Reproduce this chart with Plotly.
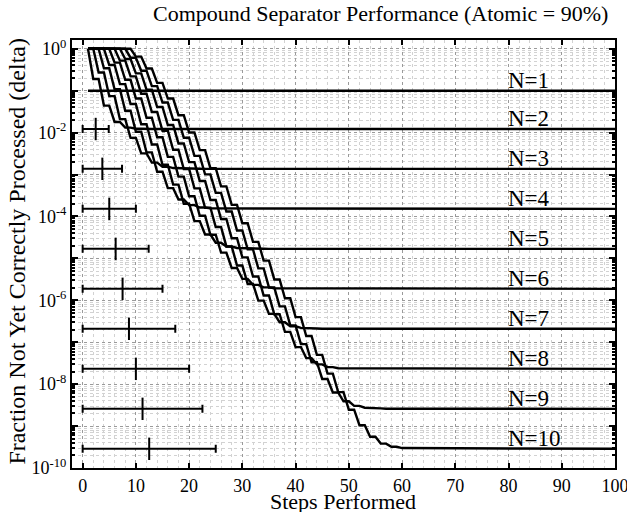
import math
import plotly.graph_objects as go

# ── Data ─────────────────────────────────────────────────────────────────────
# fraction not yet processed, one level per two steps, starting at step N
# (value holds for two consecutive steps; last entry is the floor)
n1 = [1.0e-1]
n2 = [1.90e-1, 4.42e-2, 1.80e-2, 1.32e-2, 1.24e-2, 1.22e-2]
n3 = [2.71e-1, 7.42e-2, 2.10e-2, 7.52e-3, 3.21e-3, 1.93e-3, 1.54e-3, 1.43e-3,
      1.39e-3, 1.38e-3, 1.37e-3]
n4 = [3.44e-1, 1.08e-1, 3.33e-2, 1.05e-2, 3.39e-3, 1.17e-3, 4.75e-4, 2.55e-4,
      1.87e-4, 1.64e-4, 1.56e-4, 1.54e-4, 1.52e-4]
n5 = [4.10e-1, 1.44e-1, 4.81e-2, 1.59e-2, 5.21e-3, 1.72e-3, 5.76e-4, 2.02e-4,
      7.77e-5, 3.71e-5, 2.37e-5, 1.92e-5, 1.77e-5, 1.72e-5, 1.70e-5, 1.69e-5]
n6 = [4.69e-1, 1.82e-1, 6.54e-2, 2.27e-2, 7.78e-3, 2.64e-3, 8.95e-4, 3.04e-4,
      1.04e-4, 3.66e-5, 1.37e-5, 5.88e-6, 3.24e-6, 2.34e-6, 2.04e-6, 1.94e-6,
      1.90e-6, 1.88e-6]
n7 = [5.22e-1, 2.20e-1, 8.48e-2, 3.11e-2, 1.11e-2, 3.90e-3, 1.36e-3, 4.69e-4,
      1.62e-4, 5.61e-5, 1.93e-5, 6.77e-6, 2.46e-6, 9.82e-7, 4.75e-7, 3.00e-7,
      2.40e-7, 2.20e-7, 2.13e-7, 2.09e-7]
n8 = [5.70e-1, 2.60e-1, 1.06e-1, 4.09e-2, 1.52e-2, 5.53e-3, 1.98e-3, 7.02e-4,
      2.47e-4, 8.69e-5, 3.02e-5, 1.06e-5, 3.69e-6, 1.30e-6, 4.66e-7, 1.77e-7,
      7.66e-8, 4.18e-8, 2.97e-8, 2.55e-8, 2.40e-8, 2.35e-8, 2.32e-8]
n9 = [6.13e-1, 2.99e-1, 1.29e-1, 5.22e-2, 2.02e-2, 7.58e-3, 2.79e-3, 1.01e-3,
      3.65e-4, 1.31e-4, 4.63e-5, 1.64e-5, 5.77e-6, 2.03e-6, 7.16e-7, 2.53e-7,
      9.03e-8, 3.33e-8, 1.33e-8, 6.35e-9, 3.90e-9, 3.04e-9, 2.74e-9, 2.64e-9,
      2.60e-9, 2.58e-9]
n10 = [6.51e-1, 3.38e-1, 1.54e-1, 6.50e-2, 2.61e-2, 1.01e-2, 3.83e-3, 1.42e-3,
       5.22e-4, 1.89e-4, 6.90e-5, 2.48e-5, 8.85e-6, 3.15e-6, 1.12e-6, 3.97e-7,
       1.41e-7, 4.99e-8, 1.78e-8, 6.46e-9, 2.46e-9, 1.05e-9, 5.57e-10, 3.82e-10,
       3.20e-10, 2.99e-10, 2.91e-10, 2.87e-10]

# mean steps per N (cross) and spread of the horizontal bars
bar_n = [2, 3, 4, 5, 6, 7, 8, 9, 10]
bar_center = [2.45, 3.7, 5.0, 6.2, 7.5, 8.7, 10.0, 11.25, 12.5]
bar_half = [2.45, 3.7, 5.0, 6.2, 7.5, 8.7, 10.0, 11.25, 12.5]

steps_max = 100
y_tick_exp = list(range(0, -11, -1))

FONT = "Liberation Serif"

levels = [n1, n2, n3, n4, n5, n6, n7, n8, n9, n10]

fig = go.Figure()

for n, lv in enumerate(levels, start=1):
    xs = list(range(1, n))
    ys = [1.0] * (n - 1)
    for j, v in enumerate(lv):
        xs += [n + 2 * j, n + 2 * j + 1]
        ys += [v, v]
    xs.append(steps_max)
    ys.append(lv[-1])
    fig.add_trace(go.Scatter(x=xs, y=ys, mode="lines",
                             line=dict(color="black", width=2.4),
                             showlegend=False, hoverinfo="skip"))

# horizontal spread bars with a cross at the mean
bar_y = [levels[n - 1][-1] for n in bar_n]
fig.add_trace(go.Scatter(
    x=bar_center, y=bar_y, mode="markers",
    marker=dict(symbol="line-ns", size=16, color="black",
                line=dict(color="black", width=2)),
    error_x=dict(type="data", array=bar_half, symmetric=True,
                 color="black", thickness=2, width=4),
    showlegend=False, hoverinfo="skip",
))

# N=k labels above each floor line
for n, lv in enumerate(levels, start=1):
    fig.add_annotation(x=79.5, y=math.log10(lv[-1]),
                       text=f"N={n}", showarrow=False,
                       xanchor="left", yanchor="bottom", yshift=-4,
                       font=dict(family=FONT, size=23, color="black"))

# titles placed as paper annotations (plot box is 72..615 x 40..468 px)
fig.add_annotation(text="Compound Separator Performance (Atomic = 90%)",
                   xref="paper", yref="paper", x=0.569, y=1.061,
                   xanchor="center", yanchor="middle", showarrow=False,
                   font=dict(family=FONT, size=22, color="black"))
fig.add_annotation(text="Steps Performed",
                   xref="paper", yref="paper", x=0.499, y=-0.078,
                   xanchor="center", yanchor="middle", showarrow=False,
                   font=dict(family=FONT, size=22, color="black"))
fig.add_annotation(text="Fraction Not Yet Correctly Processed (delta)",
                   xref="paper", yref="paper", x=-0.102, y=0.507,
                   xanchor="center", yanchor="middle", showarrow=False,
                   textangle=-90,
                   font=dict(family=FONT, size=24, color="black"))

tick_text = [("10<sup>%d</sup>" % e) if e % 2 == 0 else "" for e in y_tick_exp]
minor_vals = [k * 10.0 ** e for e in range(-10, 0) for k in range(2, 10)]

fig.update_layout(
    width=627, height=512,
    margin=dict(l=72, r=12, t=40, b=44, autoexpand=False),
    paper_bgcolor="white", plot_bgcolor="white",
    font=dict(family=FONT, size=18, color="black"),
    xaxis=dict(
        range=[-2, 100], tick0=0, dtick=10, automargin=False,
        ticklabeloverflow="allow",
        ticks="inside", ticklen=5, tickwidth=1.5, tickcolor="black",
        showline=True, linewidth=2, linecolor="black", mirror="ticks",
        showgrid=True, gridcolor="#9a9a9a", griddash="dot", gridwidth=1,
        zeroline=False,
        minor=dict(tick0=0, dtick=2, showgrid=True, gridcolor="#d2d2d2",
                   griddash="dot", gridwidth=1),
        tickfont=dict(family=FONT, size=18),
    ),
    yaxis=dict(
        type="log", range=[-10.0, 0.21], automargin=False,
        ticklabeloverflow="allow",
        tickmode="array", tickvals=[10.0 ** e for e in y_tick_exp],
        ticktext=tick_text,
        ticks="inside", ticklen=6, tickwidth=1.5, tickcolor="black",
        showline=True, linewidth=2, linecolor="black", mirror="ticks",
        showgrid=True, gridcolor="#9a9a9a", griddash="dot", gridwidth=1,
        zeroline=False,
        minor=dict(tickmode="array", tickvals=minor_vals, ticks="inside",
                   ticklen=3, tickcolor="black", showgrid=True,
                   gridcolor="#d2d2d2", griddash="dot", gridwidth=1),
        tickfont=dict(family=FONT, size=18),
    ),
)

# the page body's default 8px margin would shift the whole figure
fig.write_html("out.html", config={"displayModeBar": False},
               post_script="document.body.style.margin='0px';")
